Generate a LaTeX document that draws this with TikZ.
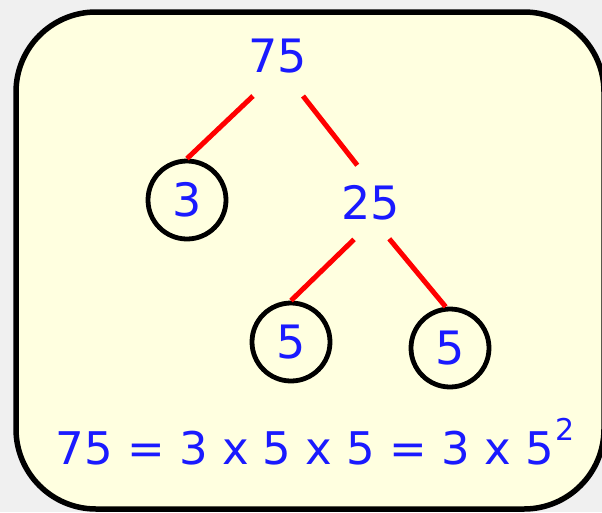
\documentclass[tikz,border=0pt]{standalone}
\usepackage{fontspec}
\setmainfont{DejaVu Sans}
\definecolor{numblue}{HTML}{1A1AFF}
\definecolor{branchred}{HTML}{FF0000}
\definecolor{cardfill}{HTML}{FFFFE0}
\definecolor{pagegray}{HTML}{F0F0F0}

\begin{document}
\begin{tikzpicture}[x=1pt, y=-1pt,
  num/.style={circle, inner sep=0pt, minimum size=80pt, text=numblue, font=\fontsize{46}{46}\selectfont},
  ring/.style={num, draw=black, line width=4.8pt, minimum size=78pt},
  branch/.style={branchred, line width=5pt}]

  \useasboundingbox (0,0) rectangle (602,512);

  % Page and card
  \fill[pagegray] (0,0) rectangle (602,512);
  \draw[line width=5.5pt, fill=cardfill, rounded corners=80pt] (16,12) rectangle (604,509);

  % Factor tree
  \node[num, minimum size=94pt] (n75) at (278,56) {75};
  \node[ring] (n3) at (187,200) {3};
  \node[num] (n25) at (371,203) {25};
  \node[ring] (n5a) at (291,342) {5};
  \node[ring] (n5b) at (450,348) {5};

  % Branches
  \foreach \from/\to in {n75.-122/n3.north, n75.-58/n25.110, n25.-115/n5a.north, n25.-63/n5b.96}
    \draw[branch] (\from) -- (\to);

  % Result
  \node[anchor=base, text=numblue, font=\fontsize{45}{45}\selectfont] (eq) at (315,464)
    {75 = 3 x 5 x 5 = 3 x 5\kern1pt\raisebox{24pt}{\fontsize{30}{30}\selectfont 2}};

\end{tikzpicture}
\end{document}
